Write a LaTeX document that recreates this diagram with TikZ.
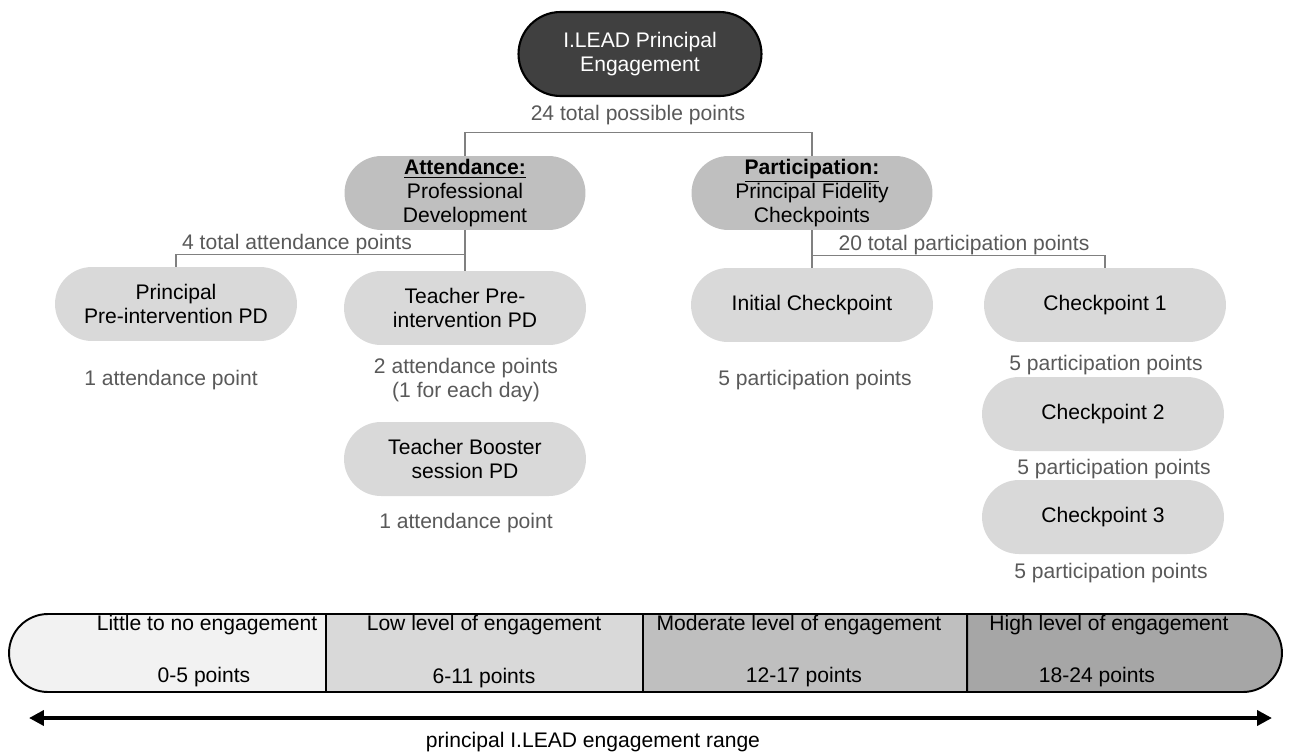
\documentclass[tikz,border=0pt]{standalone}
\usepackage{fontspec}
\setmainfont{Liberation Sans}
\usetikzlibrary{positioning, shapes.misc, arrows.meta}
\definecolor{rootgray}{HTML}{404040}
\definecolor{branchgray}{HTML}{BFBFBF}
\definecolor{leafgray}{HTML}{D9D9D9}
\definecolor{notegray}{HTML}{595959}
\definecolor{linegray}{HTML}{808080}
\definecolor{band0}{HTML}{F2F2F2}
\definecolor{band1}{HTML}{D9D9D9}
\definecolor{band2}{HTML}{BFBFBF}
\definecolor{band3}{HTML}{A6A6A6}

\begin{document}
\begin{tikzpicture}[
          x=0.02cm, y=-0.02cm,
          font=\fontsize{12}{13.6}\selectfont,
          root/.style={rounded rectangle, draw=black, line width=1.2pt, fill=rootgray, text=white,
                       minimum width=4.86cm, minimum height=1.68cm, inner sep=0pt, align=center},
          branch/.style={rounded rectangle, fill=branchgray, minimum width=4.82cm, minimum height=1.48cm,
                         inner sep=0pt, align=center},
          leaf/.style={rounded rectangle, fill=leafgray, minimum width=4.84cm, minimum height=1.48cm,
                       inner sep=0pt, align=center},
          points/.style={text=notegray, align=center, inner sep=1pt},
          link/.style={draw=linegray, line width=0.8pt},
          band/.style={draw=black, line width=1.1pt, minimum height=1.56cm, inner sep=0pt},
          rangearrow/.style={{Triangle[length=0.3cm, width=0.3cm]}-{Triangle[length=0.3cm, width=0.3cm]}, line width=2.2pt}
        ]
          \useasboundingbox (0,0) rectangle (1292,751);

          \node[root] (root) at (640,54) {I.LEAD Principal\\Engagement};
          \node[points] (total) at (638,115) {24 total possible points};

          \node[branch] (attend) at (465,193) {\underline{\textbf{Attendance:}}\\Professional\\Development};
          \node[branch] (partic) at (812,193) {\underline{\textbf{Participation:}}\\Principal Fidelity\\Checkpoints};

          \node[points] (attendtot) at (297,244) {4 total attendance points};
          \node[points] (partictot) at (964,245) {20 total participation points};

          \node[leaf] (ppre) at (176,304) {Principal\\Pre-intervention PD};
          \node[leaf] (tpre) at (465,308) {Teacher Pre-\\intervention PD};
          \node[leaf] (boost) at (465,459) {Teacher Booster\\session PD};
          \node[leaf] (initcp) at (812,305) {Initial Checkpoint};
          \node[leaf] (cp1) at (1105,305) {Checkpoint 1};
          \node[leaf] (cp2) at (1103,414) {Checkpoint 2};
          \node[leaf] (cp3) at (1103,517) {Checkpoint 3};

          \node[points] (pprept) at (171,380) {1 attendance point};
          \node[points] (tprept) at (466,380) {2 attendance points\\(1 for each day)};
          \node[points] (boostpt) at (466,523) {1 attendance point};
          \node[points] (initpt) at (815,380) {5 participation points};
          \node[points] (cp1pt) at (1106,365) {5 participation points};
          \node[points] (cp2pt) at (1114,469) {5 participation points};
          \node[points] (cp3pt) at (1111,573) {5 participation points};

          \draw[link] (attend.north) -- ++(0,-23) -| (partic.north);
          \draw[link] (attend.south) -- (tpre.north);
          \draw[link] (attend.south) -- ++(0,24) -| (ppre.north);
          \draw[link] (partic.south) -- (initcp.north);
          \draw[link] (partic.south) -- ++(0,25) -| (cp1.north);

          \node[band, rounded rectangle, rounded rectangle right arc=none, fill=band0, minimum width=6.34cm] (seg0) at (167.5,653) {};
          \node[band, rectangle, fill=band1, minimum width=6.34cm] (seg1) at (484.5,653) {};
          \node[band, rectangle, fill=band2, minimum width=6.48cm] (seg2) at (805,653) {};
          \node[band, rounded rectangle, rounded rectangle left arc=none, fill=band3, minimum width=6.3cm] (seg3) at (1124.5,653) {};

          \node (seg0a) at (207,625) {Little to no engagement};
          \node (seg0b) at (204,677) {0-5 points};
          \node (seg1a) at (484,625) {Low level of engagement};
          \node (seg1b) at (484,678) {6-11 points};
          \node (seg2a) at (799,625) {Moderate level of engagement};
          \node (seg2b) at (804,677) {12-17 points};
          \node (seg3a) at (1109,625) {High level of engagement};
          \node (seg3b) at (1097,677) {18-24 points};

          \coordinate (rangeL) at (29,718);
          \coordinate (rangeR) at (1272,718);
          \draw[rangearrow] (rangeL) -- (rangeR);
          \node (rangecap) at (593,742) {principal I.LEAD engagement range};
\end{tikzpicture}
\end{document}
